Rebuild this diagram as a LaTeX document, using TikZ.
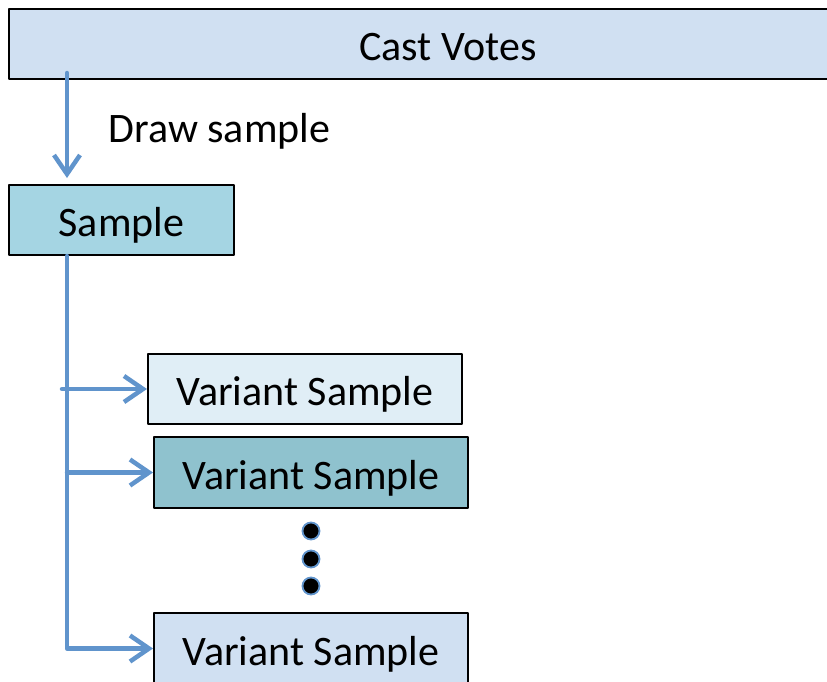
\documentclass[tikz,border=0pt]{standalone}
\usepackage{fontspec}
\setmainfont{Carlito}
\usetikzlibrary{arrows.meta}

\definecolor{votesfill}{RGB}{208,224,242}
\definecolor{samplefill}{RGB}{165,213,227}
\definecolor{varafill}{RGB}{224,238,246}
\definecolor{varbfill}{RGB}{143,194,206}
\definecolor{varcfill}{RGB}{208,224,242}
\definecolor{flowblue}{RGB}{96,148,204}

\begin{document}
\begin{tikzpicture}[x=1pt, y=-1pt, >={Straight Barb[length=19pt,width=26pt]}, line cap=round, line join=round]
	%======================
	% STYLES
	%======================
	\tikzset{
		txt/.style={font=\fontsize{42}{50}\selectfont, text height=38pt, text depth=5pt},
		box/.style={txt, draw=black, line width=2pt, anchor=north west, inner sep=0pt},
		flow/.style={line width=4.5pt, draw=flowblue, ->},
		dot/.style={circle, fill=black, draw=flowblue, line width=1.8pt,
			minimum size=17pt, inner sep=0pt}
	}
	
	\useasboundingbox (0,0) rectangle (827,681);
	
	% boxes
	\node[box, fill=votesfill, minimum width=878pt, minimum height=70pt] (votes) at (8,8) {Cast Votes};
	\node[box, fill=samplefill, minimum width=225pt, minimum height=70pt] (sample) at (8,184) {Sample};
	\node[box, fill=varafill, minimum width=314pt, minimum height=70pt] (vara) at (147,353) {Variant Sample};
	\node[box, fill=varbfill, minimum width=314pt, minimum height=71pt] (varb) at (153,436) {Variant Sample};
	\node[box, fill=varcfill, minimum width=314pt, minimum height=71pt] (varc) at (153,612) {Variant Sample};
	
	% dots between the variants
	\node[dot] (dota) at (311,531) {};
	\node[dot] (dotb) at (311,559) {};
	\node[dot] (dotc) at (311,586) {};
	
	% draw sample
	\coordinate (drawtop) at ([xshift=59pt,yshift=7pt]votes.south west);
	\coordinate (drawend) at ([xshift=59pt,yshift=6pt]sample.north west);
	\draw[flow] (drawtop) -- (drawend)
	node[pos=0.5, right=36pt, txt] (drawlbl) {Draw sample};
	
	% trunk and branches
	\coordinate (trunk) at ([xshift=59pt]sample.south west);
	\draw[flow] (trunk) |- (varc.west);
	\draw[flow] ([xshift=-5pt]trunk |- vara.west) -- (vara.west);
	\draw[flow] (trunk |- varb.west) -- (varb.west);
\end{tikzpicture}
\end{document}
